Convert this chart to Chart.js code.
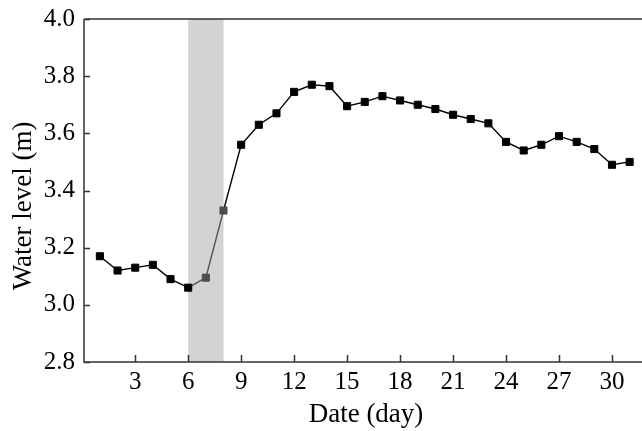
<!DOCTYPE html>
<html>
<head>
<meta charset="utf-8">
<script src="https://cdn.jsdelivr.net/npm/chart.js@4.4.1/dist/chart.umd.min.js"></script>
<style>
    html, body { margin: 0; padding: 0; background: #fff; }
    #wrap { width: 642px; height: 431px; position: relative; }
</style>
</head>
<body>
<div id="wrap"><canvas id="levelChart"></canvas></div>
<script>
// Daily water level readings (m)
const days = [1, 2, 3, 4, 5, 6, 7, 8, 9, 10, 11, 12, 13, 14, 15, 16,
    17, 18, 19, 20, 21, 22, 23, 24, 25, 26, 27, 28, 29, 30, 31];
const waterLevel = [3.17, 3.12, 3.13, 3.14, 3.09, 3.06, 3.095, 3.33, 3.56, 3.63, 3.67,
    3.745, 3.77, 3.765, 3.695, 3.71, 3.73, 3.715, 3.70, 3.685, 3.665, 3.65, 3.635,
    3.57, 3.54, 3.56, 3.59, 3.57, 3.545, 3.49, 3.50];
const xTicks = [3, 6, 9, 12, 15, 18, 21, 24, 27, 30];
const yTicks = [2.8, 3.0, 3.2, 3.4, 3.6, 3.8, 4.0];
// shaded period (days)
const bandStart = 6;
const bandEnd = 8;
// days drawn in grey
const greyDays = [7, 8];
const xTitle = 'Date (day)';
const yTitle = 'Water level (m)';

const FONT = "'Liberation Serif', 'Times New Roman', serif";

/**
 * Draws the shaded band, frame, inward tick marks and axis titles
 */
const framePlugin = {
    id: 'frame',
    beforeDatasetsDraw(chart) {
        const { ctx, chartArea, scales } = chart;
        const x0 = scales.x.getPixelForValue(bandStart);
        const x1 = scales.x.getPixelForValue(bandEnd);
        ctx.save();
        ctx.fillStyle = '#d3d3d3';
        ctx.fillRect(x0, chartArea.top, x1 - x0, chartArea.bottom - chartArea.top);
        ctx.restore();
    },
    afterDraw(chart) {
        const { ctx, chartArea, scales } = chart;
        ctx.save();
        ctx.strokeStyle = '#333';
        ctx.lineWidth = 1.5;
        ctx.beginPath();
        // top frame
        ctx.moveTo(chartArea.left, chartArea.top);
        ctx.lineTo(chartArea.right, chartArea.top);
        // left and bottom axes
        ctx.moveTo(chartArea.left, chartArea.top);
        ctx.lineTo(chartArea.left, chartArea.bottom);
        ctx.lineTo(chartArea.right, chartArea.bottom);
        // inward ticks
        xTicks.forEach(v => {
            const px = Math.round(scales.x.getPixelForValue(v)) + 0.5;
            ctx.moveTo(px, chartArea.bottom);
            ctx.lineTo(px, chartArea.bottom - 7);
        });
        yTicks.forEach(v => {
            const py = Math.round(scales.y.getPixelForValue(v)) + 0.5;
            ctx.moveTo(chartArea.left, py);
            ctx.lineTo(chartArea.left + 6, py);
        });
        ctx.stroke();

        // axis titles
        ctx.fillStyle = '#000';
        ctx.font = '27px ' + FONT;
        ctx.textAlign = 'center';
        ctx.textBaseline = 'alphabetic';
        ctx.fillText(xTitle, (chartArea.left + chartArea.right) / 2 + 3, 422);
        ctx.translate(31, 206);
        ctx.rotate(-Math.PI / 2);
        ctx.fillText(yTitle, 0, 0);
        ctx.restore();
    }
};

const points = days.map((d, i) => ({ x: d, y: waterLevel[i] }));
const isGrey = d => greyDays.includes(d);

new Chart(document.getElementById('levelChart'), {
    type: 'line',
    data: {
        datasets: [{
            data: points,
            borderColor: '#000',
            borderWidth: 1.4,
            pointStyle: 'rect',
            pointRadius: 5,
            pointBorderWidth: 1,
            pointBackgroundColor: points.map(p => isGrey(p.x) ? '#4d4d4d' : '#000'),
            pointBorderColor: points.map(p => isGrey(p.x) ? '#4d4d4d' : '#000'),
            segment: {
                borderColor: c => isGrey(days[c.p1DataIndex]) ? '#555' : '#000'
            },
            tension: 0
        }]
    },
    options: {
        responsive: true,
        maintainAspectRatio: false,
        animation: false,
        layout: {
            autoPadding: false,
            padding: { top: 19, right: 0, left: 0, bottom: 0 }
        },
        plugins: {
            legend: { display: false },
            tooltip: { enabled: false }
        },
        scales: {
            x: {
                type: 'linear',
                min: 0.1,
                max: 31.7,
                afterBuildTicks: scale => { scale.ticks = xTicks.map(v => ({ value: v })); },
                afterFit: scale => {
                    scale.height = 69;
                    scale.paddingLeft = 0;
                    scale.paddingRight = 0;
                },
                border: { display: false },
                grid: { drawOnChartArea: false, drawTicks: false },
                ticks: {
                    color: '#000',
                    padding: 5,
                    maxRotation: 0,
                    font: { family: FONT, size: 25 }
                },
                title: { display: false }
            },
            y: {
                min: 2.8,
                max: 4.0,
                afterBuildTicks: scale => { scale.ticks = yTicks.map(v => ({ value: v })); },
                afterFit: scale => {
                    scale.width = 84;
                    scale.paddingTop = 0;
                    scale.paddingBottom = 0;
                },
                border: { display: false },
                grid: { drawOnChartArea: false, drawTicks: false },
                ticks: {
                    color: '#000',
                    padding: 9,
                    font: { family: FONT, size: 25 },
                    callback: v => v.toFixed(1)
                },
                title: { display: false }
            }
        }
    },
    plugins: [framePlugin]
});
</script>
</body>
</html>
